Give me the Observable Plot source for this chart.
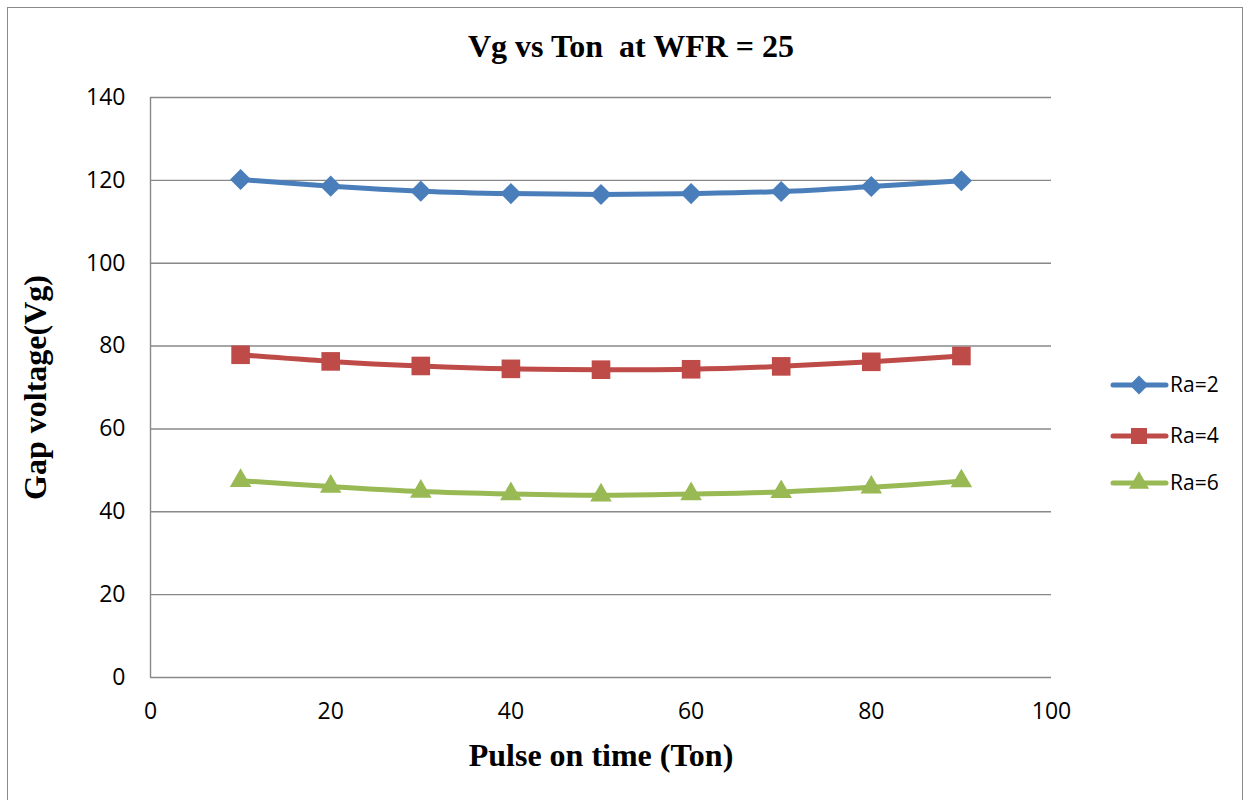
<!DOCTYPE html>
<html>
<head>
<meta charset="utf-8">
<script src="https://cdn.jsdelivr.net/npm/d3@7"></script>
<script src="https://cdn.jsdelivr.net/npm/@observablehq/plot@0.6"></script>
<style>
  html, body { margin: 0; padding: 0; background: #fff; }
  #wrap { position: relative; width: 1250px; height: 800px; overflow: hidden; background: #fff; }
  #border { position: absolute; left: 7px; top: 7px; width: 1236px; height: 840px; border: 1.5px solid #8a8a8a; box-sizing: border-box; }
  #chart { position: absolute; left: 0; top: 0; }
  #legend { position: absolute; left: 1100px; top: 360px; }
</style>
</head>
<body>
<div id="wrap">
  <div id="border"></div>
  <div id="chart"></div>
  <svg id="legend" width="150" height="150"></svg>
</div>
<script>
// ---- data ----
const ton = [10, 20, 30, 40, 50, 60, 70, 80, 90];
const ra2 = [120.2, 118.6, 117.4, 116.8, 116.6, 116.8, 117.3, 118.5, 119.9];
const ra4 = [77.9, 76.3, 75.2, 74.5, 74.3, 74.4, 75.1, 76.2, 77.6];
const ra6 = [47.5, 46.1, 44.9, 44.3, 44.0, 44.3, 44.8, 45.9, 47.4];
const seriesNames = ["Ra=2", "Ra=4", "Ra=6"];
const seriesColors = ["#4A7EBB", "#BE4B48", "#98B954"];
const seriesSymbols = ["diamond2", "square", "triangle"];
const xTicks = [0, 20, 40, 60, 80, 100];
const yTicks = [0, 20, 40, 60, 80, 100, 120, 140];
const titleText = "Vg vs Ton  at WFR = 25";
const xLabel = "Pulse on time (Ton)";
const yLabel = "Gap voltage(Vg)";

const seriesValues = [ra2, ra4, ra6];
const rows = [];
seriesNames.forEach((name, i) => {
  ton.forEach((t, j) => rows.push({series: name, ton: t, vg: seriesValues[i][j]}));
});

const serif = "'Liberation Serif', 'Times New Roman', serif";
const sans = "'Open Sans', 'Liberation Sans', sans-serif";
const radius = {"Ra=2": 9.5, "Ra=4": 10.5, "Ra=6": 8};

const chart = Plot.plot({
  width: 1250,
  height: 800,
  marginLeft: 150,
  marginRight: 199,
  marginTop: 97,
  marginBottom: 123,
  style: {background: "transparent", fontFamily: sans, color: "#000", overflow: "visible"},
  x: {domain: [0, 100], ticks: xTicks},
  y: {domain: [0, 140], ticks: yTicks},
  color: {domain: seriesNames, range: seriesColors},
  symbol: {domain: seriesNames, range: seriesSymbols},
  marks: [
    Plot.gridY(yTicks, {stroke: "#888", strokeOpacity: 1, strokeWidth: 1.4}),
    Plot.ruleX([0], {stroke: "#888", strokeWidth: 1.4}),
    Plot.axisX({ticks: xTicks, tickSize: 0, tickPadding: 25, label: null, fontSize: 23, fontFamily: sans}),
    Plot.axisY({ticks: yTicks, tickSize: 0, tickPadding: 25, label: null, fontSize: 23, fontFamily: sans}),
    Plot.line(rows, {x: "ton", y: "vg", z: "series", stroke: "series", strokeWidth: 5, curve: "catmull-rom"}),
    ...seriesNames.map(name =>
      Plot.dot(rows.filter(d => d.series === name), {x: "ton", y: "vg", fill: "series", symbol: "series", r: radius[name], stroke: "none"})
    ),
    Plot.text([titleText], {frameAnchor: "top", textAnchor: "middle", lineAnchor: "middle", dx: 30, dy: -51, fontSize: 32, fontWeight: "bold", fontFamily: serif, fill: "#000"}),
    Plot.text([xLabel], {frameAnchor: "bottom", textAnchor: "middle", lineAnchor: "middle", dy: 78, fontSize: 32, fontWeight: "bold", fontFamily: serif, fill: "#000"}),
    Plot.text([yLabel], {frameAnchor: "left", textAnchor: "middle", lineAnchor: "middle", dx: -115, rotate: -90, fontSize: 32, fontWeight: "bold", fontFamily: serif, fill: "#000"})
  ]
});
document.getElementById("chart").appendChild(chart);

// ---- legend ----
const leg = d3.select("#legend");
const rowY = [25, 76, 123];
const sym = {
  "diamond2": d3.symbolDiamond2,
  "square": d3.symbolSquare,
  "triangle": d3.symbolTriangle
};
seriesNames.forEach((name, i) => {
  const g = leg.append("g").attr("transform", `translate(0,${rowY[i]})`);
  g.append("line").attr("x1", 13).attr("x2", 66).attr("y1", 0).attr("y2", 0)
    .attr("stroke", seriesColors[i]).attr("stroke-width", 5).attr("stroke-linecap", "round");
  const size = Math.PI * Math.pow(i === 0 ? 8.5 : i === 1 ? 9 : 7.5, 2);
  g.append("path").attr("d", d3.symbol(sym[seriesSymbols[i]], size)())
    .attr("transform", "translate(39,0)").attr("fill", seriesColors[i]);
  g.append("text").attr("x", 70).attr("y", 0).attr("dy", "0.35em")
    .attr("font-family", sans).attr("font-size", 21).attr("fill", "#000").text(name);
});
</script>
</body>
</html>
